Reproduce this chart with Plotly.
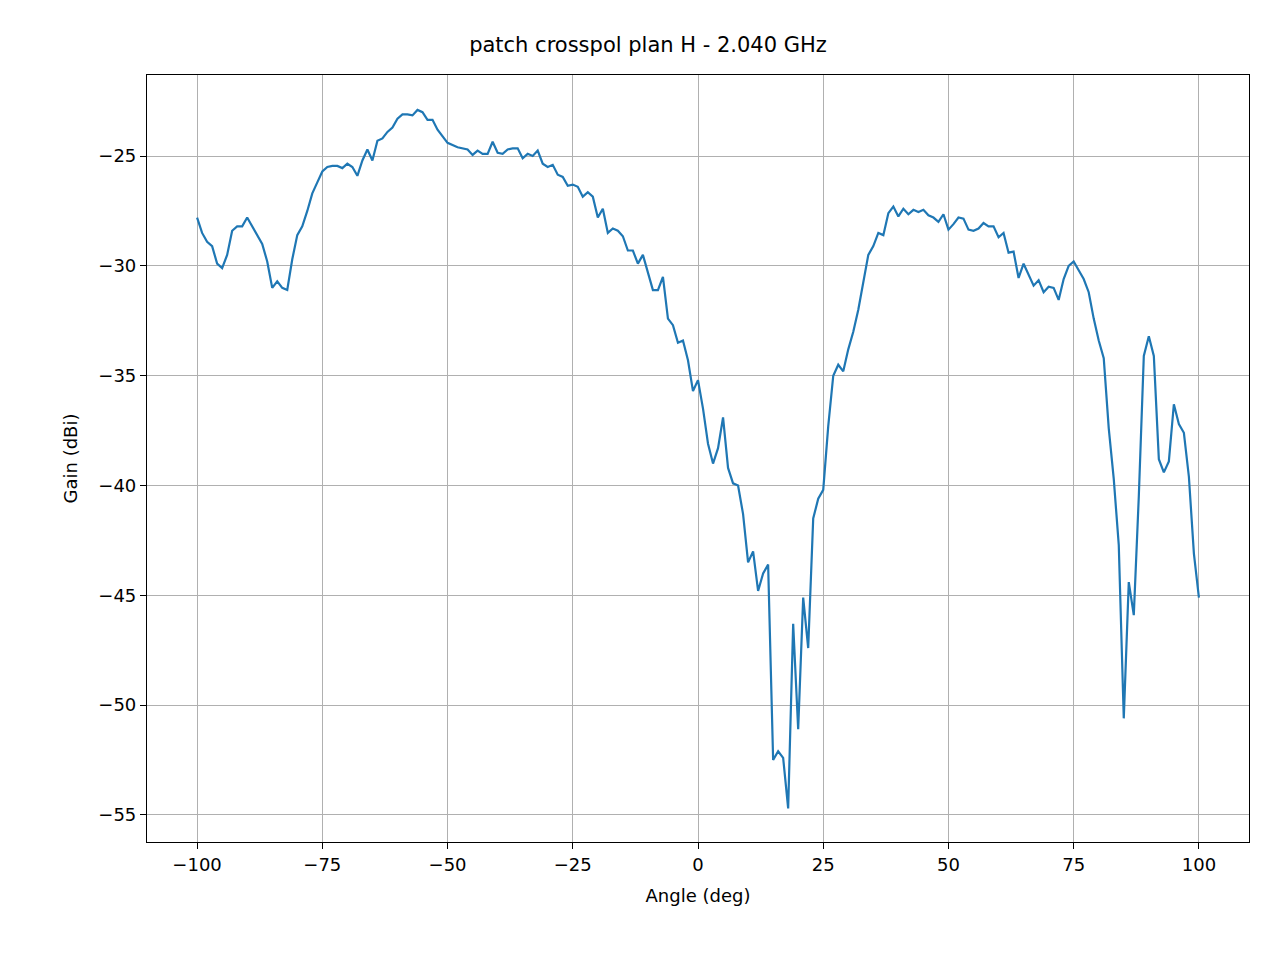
import plotly.graph_objects as go

angle = list(range(-100, -49)) + [-48, -46] + list(range(-45, 101))
gain = [-27.8, -28.5, -28.9, -29.1, -29.9, -30.1, -29.5, -28.4, -28.2, -28.2,
        -27.8, -28.2, -28.6, -29.0, -29.8, -31.0, -30.7, -31.0, -31.1, -29.7,
        -28.6, -28.2, -27.5, -26.7, -26.2, -25.7, -25.5, -25.45, -25.45, -25.55,
        -25.35, -25.5, -25.9, -25.2, -24.7, -25.2, -24.3, -24.2, -23.9, -23.7,
        -23.3, -23.1, -23.1, -23.15, -22.9, -23.0, -23.35, -23.35, -23.8, -24.1,
        -24.4, -24.6, -24.7,
        -24.95, -24.75, -24.9, -24.9, -24.35, -24.85, -24.9, -24.7, -24.65, -24.65,
        -25.1, -24.9, -25.0, -24.75, -25.35, -25.5, -25.4, -25.85, -25.95, -26.35,
        -26.3, -26.4, -26.85, -26.65, -26.85, -27.8, -27.4, -28.5, -28.3, -28.4,
        -28.65, -29.3, -29.3, -29.9, -29.5, -30.3, -31.1, -31.1, -30.5, -32.4,
        -32.7, -33.5, -33.4, -34.3, -35.7, -35.2, -36.5, -38.1, -39.0, -38.3,
        -36.9, -39.2, -39.9, -40.0, -41.3, -43.5, -43.0, -44.8, -44.0, -43.6,
        -52.5, -52.1, -52.4, -54.7, -46.3, -51.1, -45.1, -47.4, -41.5, -40.6,
        -40.2, -37.3, -35.0, -34.5, -34.8, -33.8, -33.0, -32.0, -30.8, -29.5,
        -29.1, -28.5, -28.6, -27.6, -27.3, -27.75, -27.4, -27.65, -27.45, -27.55,
        -27.45, -27.7, -27.8, -28.0, -27.65, -28.35, -28.1, -27.8, -27.85, -28.35,
        -28.4, -28.3, -28.05, -28.2, -28.2, -28.7, -28.5, -29.4, -29.35, -30.55,
        -29.9, -30.4, -30.9, -30.65, -31.2, -30.95, -31.0, -31.55, -30.6, -30.0,
        -29.8, -30.2, -30.6, -31.2, -32.4, -33.4, -34.2, -37.4, -39.7, -42.7,
        -50.6, -44.4, -45.9, -40.5, -34.1, -33.2, -34.1, -38.8, -39.4, -38.9,
        -36.3, -37.2, -37.6, -39.6, -43.1, -45.1]

x_ticks = [-100, -75, -50, -25, 0, 25, 50, 75, 100]
y_ticks = [-55, -50, -45, -40, -35, -30, -25]

fig = go.Figure(go.Scatter(x=angle, y=gain, mode="lines",
                           line=dict(color="#1f77b4", width=2.2)))

axis_style = dict(showline=True, linecolor="black", linewidth=1.2, mirror=True,
                  ticks="outside", ticklen=6, tickcolor="black",
                  showgrid=True, gridcolor="#b0b0b0", gridwidth=1.2,
                  zeroline=False, tickfont=dict(size=18, color="black"))

fig.update_layout(
    width=1280, height=960,
    paper_bgcolor="white", plot_bgcolor="white",
    font=dict(family="DejaVu Sans", color="black"),
    title=dict(text="patch crosspol plan H - 2.040 GHz", x=0.5, xanchor="center",
               y=0.962, yanchor="middle", font=dict(size=21)),
    margin=dict(l=139, r=39, t=67, b=126),
    showlegend=False,
    xaxis=dict(range=[-110, 110], tickvals=x_ticks,
               ticktext=[str(t).replace("-", "\u2212") for t in x_ticks],
               title=dict(text="Angle (deg)", font=dict(size=18)), **axis_style),
    yaxis=dict(range=[-56.23, -21.31], tickvals=y_ticks,
               ticktext=[str(t).replace("-", "\u2212") for t in y_ticks],
               title=dict(text="Gain (dBi)", font=dict(size=18)), **axis_style),
)

fig.write_html("out.html")
